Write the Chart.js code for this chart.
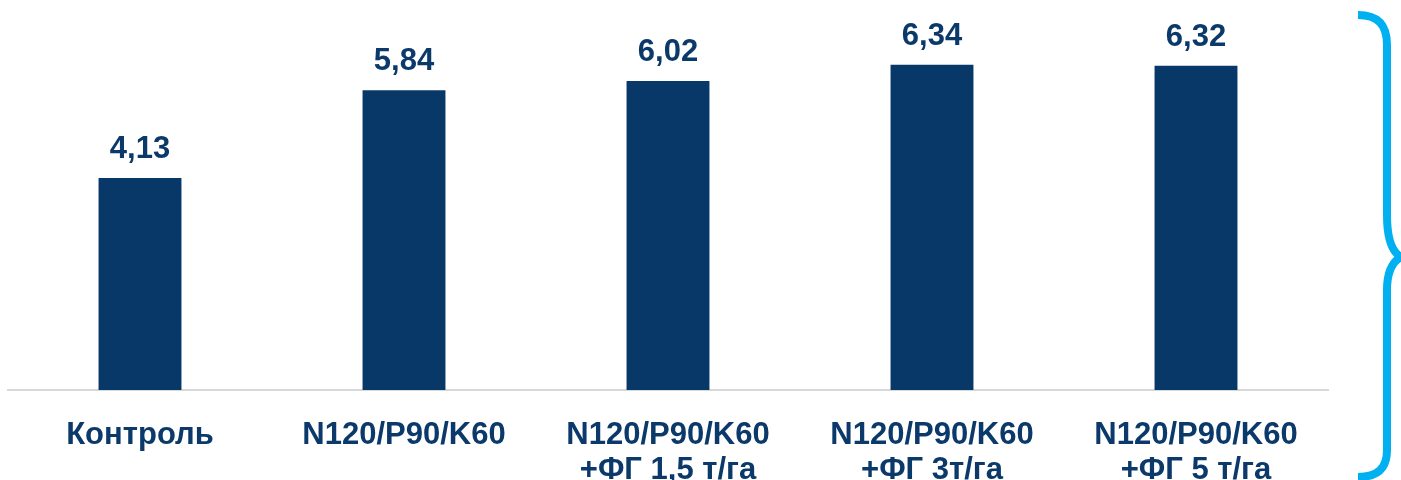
<!DOCTYPE html>
<html>
<head>
<meta charset="utf-8">
<script src="https://cdn.jsdelivr.net/npm/chart.js@4"></script>
<style>
  html, body { margin: 0; padding: 0; background: #fff; }
  #wrap { position: relative; width: 1401px; height: 480px; }
  #brace { position: absolute; left: 0; top: 0; pointer-events: none; }
</style>
</head>
<body>
<div id="wrap">
  <canvas id="yieldChart" width="1401" height="480"></canvas>
  <svg id="brace" width="1401" height="480">
    <path d="M1358,15 C1378,15 1387,25 1387,45 L1387,215 C1387,240 1392,252 1401,257 C1392,262 1387,272 1387,290 L1387,450 C1387,468 1378,477 1358,477"
          fill="none" stroke="#00b0f0" stroke-width="8"/>
  </svg>
</div>
<script>
// ── Data ───────────────────────────────────────────────────
const categories = [
  'Контроль',
  'N120/P90/K60',
  ['N120/P90/K60', '+ФГ 1,5 т/га'],
  ['N120/P90/K60', '+ФГ 3т/га'],
  ['N120/P90/K60', '+ФГ 5 т/га']
];
const yields = [4.13, 5.84, 6.02, 6.34, 6.32];

const NAVY = '#083868';
const TEXT = '#0b3a6a';

Chart.defaults.font.family = "'Liberation Sans', Arial, sans-serif";

// ── Value labels above bars ────────────────────────────────
const valueLabels = {
  id: 'valueLabels',
  afterDatasetsDraw(chart) {
    const ctx = chart.ctx;
    const meta = chart.getDatasetMeta(0);
    ctx.save();
    ctx.font = "bold 31px 'Liberation Sans', Arial, sans-serif";
    ctx.fillStyle = TEXT;
    ctx.textAlign = 'center';
    ctx.textBaseline = 'alphabetic';
    meta.data.forEach((bar, i) => {
      ctx.fillText(yields[i].toFixed(2).replace('.', ','), bar.x, bar.y - 20);
    });
    ctx.restore();
  }
};

new Chart(document.getElementById('yieldChart'), {
  type: 'bar',
  data: {
    labels: categories,
    datasets: [{
      data: yields,
      backgroundColor: NAVY,
      borderWidth: 0,
      barPercentage: 0.314,
      categoryPercentage: 1
    }]
  },
  options: {
    responsive: false,
    animation: false,
    layout: { padding: { left: 8, right: 73, top: 0, bottom: 0 } },
    plugins: {
      legend: { display: false },
      tooltip: { enabled: false }
    },
    scales: {
      x: {
        grid: { display: false },
        border: { display: true, color: '#d9d9d9', width: 2 },
        afterFit: s => { s.height = 90; },
        ticks: {
          color: TEXT,
          font: { size: 31, weight: 'bold', lineHeight: 1.13 },
          padding: 20,
          maxRotation: 0,
          autoSkip: false
        }
      },
      y: {
        display: false,
        min: 0,
        max: 7.6
      }
    }
  },
  plugins: [valueLabels]
});
</script>
</body>
</html>
